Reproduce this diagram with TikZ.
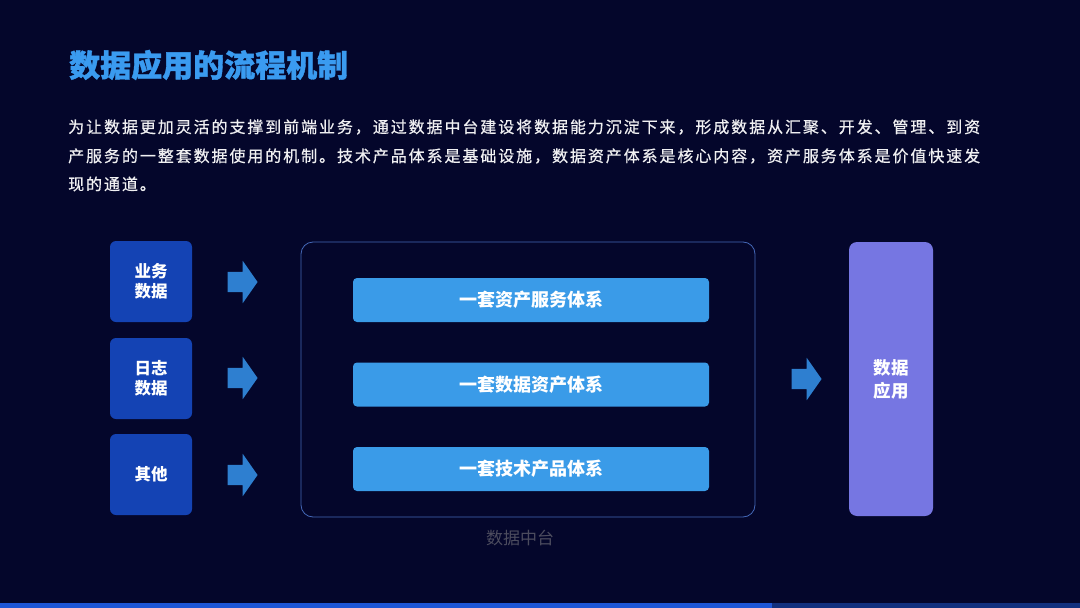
\documentclass[tikz,border=0pt]{standalone}
\usepackage{fontspec}
\setmainfont{Noto Sans CJK SC}
\usetikzlibrary{shapes.arrows}

\definecolor{bgnavy}{HTML}{04062B}
\definecolor{titleblue}{HTML}{3A9BF0}
\definecolor{srcblue}{HTML}{1443B4}
\definecolor{arrowblue}{HTML}{2E7FD0}
\definecolor{frameblue}{HTML}{4468B8}
\definecolor{barblue}{HTML}{3A9BE8}
\definecolor{appviolet}{HTML}{7676E2}
\definecolor{labelgray}{HTML}{4C4C5E}
\definecolor{linebright}{HTML}{1E56D6}
\definecolor{linedark}{HTML}{12307E}

\tikzset{
  srcbox/.style={fill=srcblue, rounded corners=6pt, minimum width=82pt, minimum height=81pt,
    text=white, align=center, font=\fontsize{16.5}{20}\selectfont\bfseries},
  layerbar/.style={fill=barblue, rounded corners=4pt, minimum width=356pt, minimum height=44pt,
    text=white, font=\fontsize{18}{20}\selectfont\bfseries},
  blockarrow/.style={single arrow, fill=arrowblue, inner sep=0pt, inner ysep=10pt,
    single arrow head extend=11pt, single arrow tip angle=110, minimum height=30pt},
  desc/.style={anchor=west, inner sep=0pt, text=white!94!bgnavy,
    font=\fontsize{16}{20}\selectfont\addfontfeatures{LetterSpace=12,FakeBold=0.6}}
}

\begin{document}
\begin{tikzpicture}[x=1pt, y=-1pt]
  % фон
  \fill [bgnavy] (0,0) rectangle (1080,608);
  \useasboundingbox (0,0) rectangle (1080,608);
  \fill [linedark] (0,603) rectangle (1080,608);
  \fill [linebright] (0,603) rectangle (772,608);

  % заголовок
  \node [anchor=west, inner sep=0pt, text=titleblue,
    font=\fontsize{31}{36}\selectfont\bfseries\addfontfeatures{FakeBold=1.2}]
    (title) at (69,65) {数据应用的流程机制};

  % описание
  \node [desc] (desc1) at (68,127) {为让数据更加灵活的支撑到前端业务，通过数据中台建设将数据能力沉淀下来，形成数据从汇聚、开发、管理、到资};
  \node [desc] (desc2) at (68,156) {产服务的一整套数据使用的机制。技术产品体系是基础设施，数据资产体系是核心内容，资产服务体系是价值快速发};
  \node [desc] (desc3) at (68,184) {现的通道。};

  % источники
  \node [srcbox] (biz) at (151,281.5) {业务\\数据};
  \node [srcbox] (log) at (151,378.5) {日志\\数据};
  \node [srcbox] (other) at (151,474.5) {其他};

  \node [blockarrow] (a1) at (239,282) {};
  \node [blockarrow] (a2) at (239,378) {};
  \node [blockarrow] (a3) at (239,475) {};

  % средний слой
  \node [draw=frameblue, line width=0.8pt, rounded corners=12pt,
    minimum width=454pt, minimum height=275pt] (midplat) at (528,379.5) {};
  \node [layerbar] (svc) at (531,300) {一套资产服务体系};
  \node [layerbar] (asset) at (531,384.5) {一套数据资产体系};
  \node [layerbar] (tech) at (531,469) {一套技术产品体系};
  \node [text=labelgray, font=\fontsize{17}{20}\selectfont] (midlabel) at (520,538) {数据中台};

  % приложение
  \node [blockarrow] (a4) at (803,379) {};
  \node [fill=appviolet, rounded corners=8pt, minimum width=84pt, minimum height=274pt,
    text=white, align=center, font=\fontsize{17.5}{23}\selectfont\bfseries] (app) at (891,379) {数据\\应用};
\end{tikzpicture}
\end{document}
